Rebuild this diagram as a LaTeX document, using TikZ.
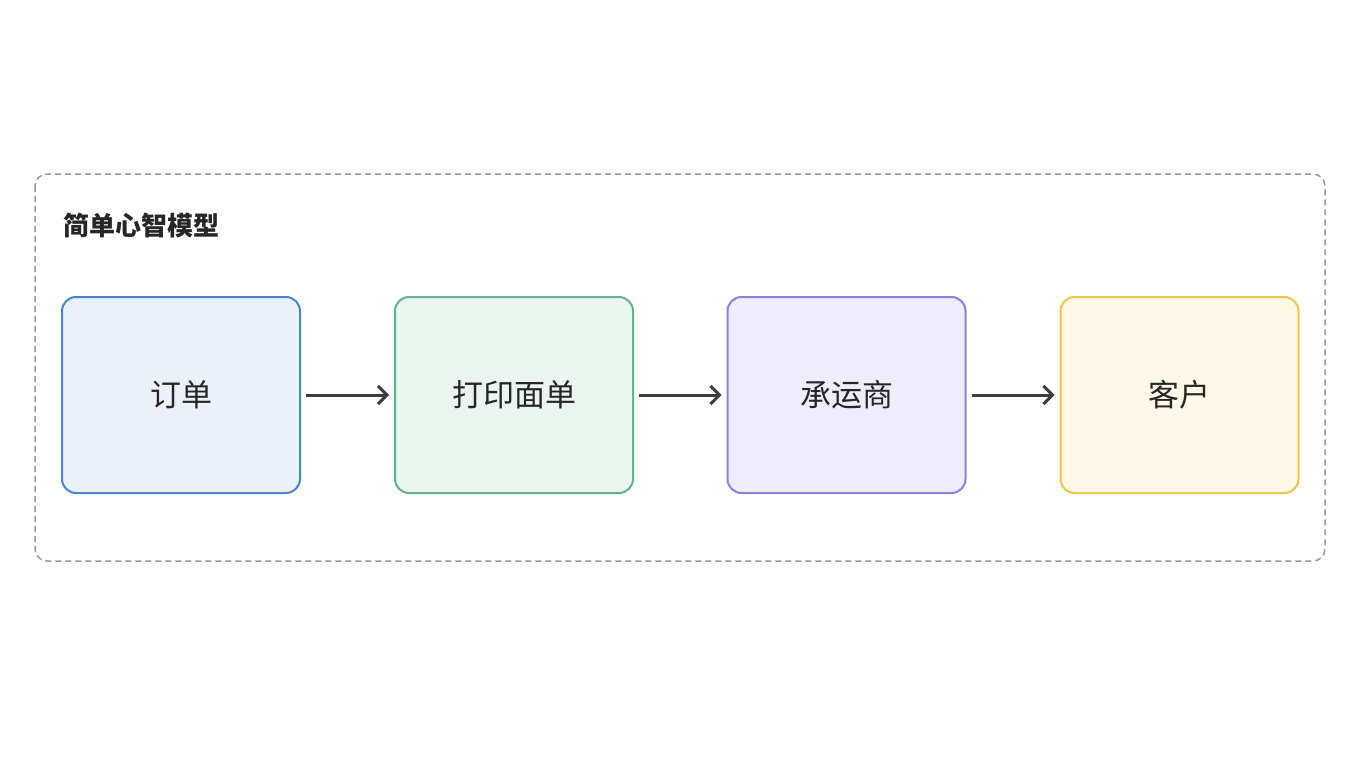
\documentclass[tikz,border=0pt]{standalone}
\usepackage{fontspec}
\newfontfamily\cjk{Noto Sans CJK SC}
\usetikzlibrary{arrows.meta}
\definecolor{bs}{HTML}{4A86D0}\definecolor{bf}{HTML}{EBF1FB}
\definecolor{gs}{HTML}{62B28E}\definecolor{gf}{HTML}{E9F5EE}
\definecolor{ps}{HTML}{8B7FE0}\definecolor{pf}{HTML}{EFECFB}
\definecolor{ys}{HTML}{F2C443}\definecolor{yf}{HTML}{FFF8E6}
\definecolor{ar}{HTML}{3A3D42}
\begin{document}
\begin{tikzpicture}[x=1pt,y=-1pt,
 box/.style={draw,line width=2pt,rounded corners=14pt,minimum width=238pt,minimum height=196pt,inner sep=0pt,font=\cjk\fontsize{31}{36}\selectfont,text=black!85},
 arr/.style={draw=ar,line width=3pt,-{Straight Barb[length=9pt,width=18pt,line width=3pt]}}]
\useasboundingbox[fill=white] (0,0) rectangle (1360,768);
\draw[gray!80,line width=1.5pt,dash pattern=on 6pt off 4pt,rounded corners=12pt] (35,174) rectangle (1325,561);
\node[anchor=west,font=\cjk\bfseries\fontsize{26}{30}\selectfont,text=black!85] (t) at (60,226) {简单心智模型};
\node[box,draw=bs,fill=bf] (a) at (181,395) {订单};
\node[box,draw=gs,fill=gf] (b) at (514,395) {打印面单};
\node[box,draw=ps,fill=pf] (c) at (846.5,395) {承运商};
\node[box,draw=ys,fill=yf] (d) at (1179.5,395) {客户};
\draw[arr] ([xshift=5pt]a.east) -- ([xshift=-5pt]b.west);
\draw[arr] ([xshift=5pt]b.east) -- ([xshift=-5pt]c.west);
\draw[arr] ([xshift=5pt]c.east) -- ([xshift=-5pt]d.west);
\end{tikzpicture}
\end{document}
